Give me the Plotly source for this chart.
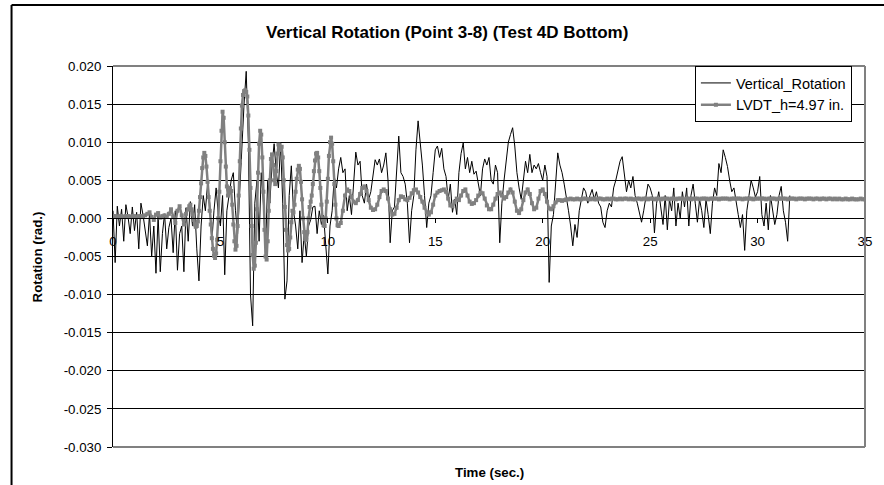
import numpy as np
import plotly.graph_objects as go

# ---------------------------------------------------------------------------
# Data (rotation in rad)
# ---------------------------------------------------------------------------
# Vertical_Rotation: sampled every 0.1 s starting at t = 0.0 s
vert_step = 0.1
vert_rotation = [
    # 0.0 - 4.0 s
    0.0010, -0.0058, 0.0016, -0.0010, 0.0012, -0.0030, 0.0018, 0.0002, -0.0020, 0.0015,
    -0.0016, 0.0008, -0.0040, 0.0020, 0.0004, -0.0018, -0.0036, 0.0006, -0.0050, -0.0010,
    -0.0072, 0.0004, -0.0070, -0.0020, 0.0006, -0.0040, -0.0012, 0.0000, -0.0045, 0.0010,
    -0.0068, -0.0020, -0.0010, -0.0070, 0.0014, -0.0030, 0.0022, -0.0010, 0.0018, -0.0040,
    -0.0082,
    # 4.1 - 10.0 s
    -0.0010, 0.0030, 0.0010, 0.0045, 0.0020, -0.0030, 0.0010, 0.0040, 0.0005, -0.0010,
    0.0030, -0.0074, 0.0010, 0.0030, 0.0050, 0.0060, 0.0010, -0.0020, 0.0040, 0.0080,
    0.0150, 0.0193, 0.0100, -0.0100, -0.0141, 0.0020, 0.0050, -0.0030, 0.0060, 0.0020,
    -0.0040, 0.0050, 0.0020, 0.0070, 0.0098, 0.0060, 0.0040, 0.0099, 0.0020, -0.0106,
    -0.0082, 0.0030, 0.0069, 0.0010, -0.0010, -0.0040, 0.0010, -0.0058, -0.0020, -0.0050,
    -0.0010, -0.0002, 0.0015, 0.0016, -0.0020, 0.0010, -0.0008, 0.0004, -0.0040, -0.0073,
    # 10.1 - 17.0 s
    -0.0010, 0.0010, 0.0055, 0.0040, 0.0065, 0.0080, 0.0060, 0.0065, 0.0010, 0.0030,
    0.0005, 0.0050, 0.0087, 0.0070, 0.0075, 0.0030, 0.0020, 0.0045, 0.0025, 0.0035,
    0.0060, 0.0077, 0.0070, 0.0078, 0.0060, 0.0070, 0.0086, 0.0050, -0.0032, 0.0010,
    0.0015, 0.0060, 0.0108, 0.0060, 0.0055, 0.0045, 0.0020, -0.0032, 0.0010, 0.0030,
    0.0090, 0.0128, 0.0100, 0.0070, 0.0030, -0.0012, 0.0020, 0.0030, 0.0060, 0.0090,
    0.0095, 0.0080, 0.0092, 0.0065, 0.0055, 0.0025, 0.0045, 0.0008, 0.0025, 0.0005,
    0.0060, 0.0085, 0.0099, 0.0065, 0.0080, 0.0060, 0.0075, 0.0058, 0.0062, 0.0045,
    # 17.1 - 25.0 s
    0.0030, 0.0065, 0.0078, 0.0070, 0.0080, 0.0050, 0.0045, 0.0070, 0.0060, -0.0032,
    0.0020, 0.0050, 0.0080, 0.0100, 0.0110, 0.0119, 0.0095, 0.0060, 0.0040, 0.0025,
    0.0050, 0.0075, 0.0060, 0.0084, 0.0060, 0.0070, 0.0065, 0.0072, 0.0060, 0.0050,
    0.0070, 0.0055, -0.0084, -0.0010, 0.0005, 0.0050, 0.0086, 0.0070, 0.0060, 0.0045,
    0.0030, 0.0010, -0.0010, -0.0036, -0.0008, -0.0025, 0.0010, 0.0025, 0.0040, 0.0035,
    0.0020, 0.0030, 0.0038, 0.0025, 0.0035, 0.0020, 0.0015, -0.0005, -0.0012, 0.0010,
    0.0020, 0.0015, 0.0040, 0.0050, 0.0065, 0.0075, 0.0081, 0.0060, 0.0035, 0.0050,
    0.0040, 0.0055, 0.0030, 0.0020, 0.0005, -0.0005, 0.0010, 0.0030, 0.0045, 0.0040,
    # 25.1 - 31.5 s
    0.0030, -0.0019, 0.0020, 0.0035, 0.0010, -0.0008, 0.0030, -0.0015, 0.0025, 0.0010,
    0.0040, -0.0010, 0.0020, 0.0000, 0.0035, 0.0015, 0.0040, -0.0010, 0.0030, 0.0045,
    0.0020, -0.0005, 0.0025, 0.0010, -0.0012, 0.0025, 0.0005, -0.0020, 0.0020, 0.0040,
    0.0030, 0.0072, 0.0060, 0.0090, 0.0080, 0.0068, 0.0050, 0.0035, 0.0040, 0.0025,
    0.0005, -0.0012, 0.0005, -0.0042, 0.0010, 0.0030, 0.0050, 0.0040, 0.0028, 0.0035,
    0.0055, 0.0005, -0.0010, 0.0020, -0.0015, 0.0030, 0.0010, -0.0008, 0.0005, 0.0030,
    0.0042, 0.0010, -0.0005, -0.0030, 0.0030,
]

# LVDT_h=4.97 in.: three segments with their own start time and sample step
lvdt_early_start, lvdt_early_step = 0.0, 0.1
lvdt_early = [
    0.0003, 0.0003, 0.0002, 0.0003, 0.0003, 0.0002, 0.0003, 0.0003, 0.0002, 0.0003,
    0.0003, 0.0002, 0.0003, 0.0003, 0.0002, 0.0004, 0.0006, 0.0008, 0.0002, -0.0002,
    0.0005, 0.0007, 0.0001, 0.0003, 0.0004, 0.0002, 0.0006, 0.0012, 0.0002, -0.0006,
    0.0010, 0.0016, 0.0004, -0.0008, 0.0006,
]

lvdt_strong_start, lvdt_strong_step = 3.5, 0.05
lvdt_strong = [
    0.0012, 0.0016, 0.0018, 0.0012, 0.0005, -0.0002, -0.0008, -0.0011, -0.0010, -0.0004,
    0.0010, 0.0028, 0.0046, 0.0066, 0.0080, 0.0086, 0.0082, 0.0068, 0.0048, 0.0028,
    0.0010, -0.0008, -0.0026, -0.0040, -0.0049, -0.0052, -0.0046, -0.0028, 0.0000, 0.0035,
    0.0075, 0.0115, 0.0140, 0.0132, 0.0100, 0.0068, 0.0042, 0.0030, 0.0034, 0.0040,
    0.0036, 0.0018, -0.0008, -0.0030, -0.0041, -0.0036, -0.0010, 0.0030, 0.0075, 0.0118,
    0.0148, 0.0162, 0.0167, 0.0168, 0.0166, 0.0160, 0.0135, 0.0090, 0.0040, -0.0010,
    -0.0048, -0.0066, -0.0062, -0.0032, 0.0012, 0.0060, 0.0098, 0.0115, 0.0110, 0.0080,
    0.0035, -0.0015, -0.0050, -0.0054, -0.0030, 0.0010, 0.0050, 0.0078, 0.0084, 0.0070,
    0.0050, 0.0045, 0.0062, 0.0085, 0.0097, 0.0096, 0.0090, 0.0094, 0.0080, 0.0050,
    0.0015, -0.0015, -0.0035, -0.0042, -0.0040, -0.0025, -0.0005, 0.0010, 0.0008, 0.0018,
    0.0035, 0.0052, 0.0064, 0.0069, 0.0065, 0.0048, 0.0025, 0.0000, -0.0018, -0.0027,
    -0.0028, -0.0018, 0.0000, 0.0015, 0.0022, 0.0030, 0.0045, 0.0062, 0.0076, 0.0085,
    0.0086, 0.0080, 0.0062, 0.0040, 0.0018, 0.0000, -0.0009, -0.0010, 0.0000, 0.0022,
    0.0052, 0.0082, 0.0100, 0.0106, 0.0098, 0.0075, 0.0045, 0.0018, 0.0000, -0.0009,
    -0.0010,
]

lvdt_late_start, lvdt_late_step = 10.6, 0.1
lvdt_late = [
    # 10.6 - 21.0 s
    -0.0006, 0.0010, 0.0030, 0.0038, 0.0036, 0.0028, 0.0022, 0.0020, 0.0024, 0.0032,
    0.0040, 0.0042, 0.0036, 0.0024, 0.0014, 0.0011, 0.0012, 0.0018, 0.0028, 0.0036,
    0.0038, 0.0036, 0.0026, 0.0012, 0.0005, 0.0006, 0.0014, 0.0024, 0.0029, 0.0028,
    0.0025, 0.0024, 0.0027, 0.0033, 0.0037, 0.0038, 0.0034, 0.0028, 0.0022, 0.0014,
    0.0008, 0.0005, 0.0008, 0.0018, 0.0030, 0.0034, 0.0036, 0.0037, 0.0038, 0.0035,
    0.0026, 0.0017, 0.0016, 0.0022, 0.0026, 0.0024, 0.0030, 0.0036, 0.0038, 0.0030,
    0.0022, 0.0019, 0.0020, 0.0024, 0.0030, 0.0034, 0.0033, 0.0026, 0.0017, 0.0012,
    0.0012, 0.0018, 0.0026, 0.0032, 0.0034, 0.0030, 0.0026, 0.0028, 0.0034, 0.0038,
    0.0034, 0.0022, 0.0010, 0.0007, 0.0012, 0.0024, 0.0034, 0.0038, 0.0032, 0.0020,
    0.0012, 0.0014, 0.0026, 0.0036, 0.0038, 0.0032, 0.0022, 0.0013, 0.0012, 0.0016,
    0.0021, 0.0024, 0.0024, 0.0023, 0.0024,
    # 21.1 - 35.0 s
    0.0025, 0.0025, 0.0026, 0.0025, 0.0025, 0.0026, 0.0025, 0.0025, 0.0026, 0.0026,
    0.0025, 0.0025, 0.0026, 0.0025, 0.0025, 0.0026, 0.0026, 0.0025, 0.0025, 0.0026,
    0.0025, 0.0026, 0.0026, 0.0025, 0.0025, 0.0026, 0.0025, 0.0026, 0.0026, 0.0025,
    0.0026, 0.0025, 0.0025, 0.0026, 0.0026, 0.0025, 0.0026, 0.0026, 0.0025, 0.0026,
    0.0026, 0.0025, 0.0026, 0.0026, 0.0025, 0.0026, 0.0026, 0.0026, 0.0025, 0.0026,
    0.0026, 0.0025, 0.0026, 0.0026, 0.0026, 0.0025, 0.0026, 0.0026, 0.0025, 0.0026,
    0.0026, 0.0026, 0.0025, 0.0026, 0.0026, 0.0026, 0.0025, 0.0026, 0.0026, 0.0026,
    0.0026, 0.0025, 0.0026, 0.0026, 0.0026, 0.0026, 0.0025, 0.0026, 0.0026, 0.0026,
    0.0026, 0.0026, 0.0025, 0.0026, 0.0026, 0.0026, 0.0026, 0.0025, 0.0026, 0.0026,
    0.0026, 0.0026, 0.0026, 0.0025, 0.0026, 0.0026, 0.0026, 0.0026, 0.0025, 0.0026,
    0.0026, 0.0026, 0.0026, 0.0025, 0.0026, 0.0026, 0.0026, 0.0025, 0.0026, 0.0026,
    0.0026, 0.0025, 0.0026, 0.0026, 0.0026, 0.0025, 0.0026, 0.0026, 0.0025, 0.0026,
    0.0026, 0.0025, 0.0026, 0.0026, 0.0025, 0.0026, 0.0025, 0.0026, 0.0025, 0.0025,
    0.0026, 0.0025, 0.0025, 0.0026, 0.0025, 0.0025, 0.0025, 0.0026, 0.0025, 0.0025,
]

# Axis ticks
x_tick_vals = [0, 5, 10, 15, 20, 25, 30, 35]
x_tick_text = ["0", "5", "10", "15", "20", "25", "30", "35"]
y_tick_vals = [0.020, 0.015, 0.010, 0.005, 0.000, -0.005, -0.010, -0.015,
               -0.020, -0.025, -0.030]
y_tick_text = ["0.020", "0.015", "0.010", "0.005", "0.000", "-0.005", "-0.010",
               "-0.015", "-0.020", "-0.025", "-0.030"]

# ---------------------------------------------------------------------------
# Time bases
# ---------------------------------------------------------------------------
def time_base(start, step, n):
    return np.round(start + step * np.arange(n), 3)

vert_time = time_base(0.0, vert_step, len(vert_rotation))
lvdt_time = np.concatenate([
    time_base(lvdt_early_start, lvdt_early_step, len(lvdt_early)),
    time_base(lvdt_strong_start, lvdt_strong_step, len(lvdt_strong)),
    time_base(lvdt_late_start, lvdt_late_step, len(lvdt_late)),
])
lvdt_values = lvdt_early + lvdt_strong + lvdt_late

# ---------------------------------------------------------------------------
# Figure
# ---------------------------------------------------------------------------
FONT = "Liberation Sans, Arial, Helvetica, sans-serif"
W, H = 884, 485
ML, MR, MT, MB = 113, 15, 66, 38
PW, PH = W - ML - MR, H - MT - MB
TICK_SIZE = 13.3


def px_x(px):
    return (px - ML) / PW


def px_y(py):
    return (H - MB - py) / PH


fig = go.Figure()
fig.add_trace(go.Scatter(
    x=vert_time, y=vert_rotation, name="Vertical_Rotation",
    mode="lines", line=dict(color="black", width=1),
))
fig.add_trace(go.Scatter(
    x=lvdt_time, y=lvdt_values, name="LVDT_h=4.97 in.",
    mode="lines+markers",
    line=dict(color="#808080", width=2.5),
    marker=dict(symbol="square", size=4, color="#808080"),
))

y_min, y_max = -0.030, 0.020

fig.update_layout(
    width=W, height=H,
    margin=dict(l=ML, r=MR, t=MT, b=MB, pad=0),
    paper_bgcolor="white", plot_bgcolor="white",
    font=dict(family=FONT, size=TICK_SIZE, color="black"),
    showlegend=True,
    legend=dict(
        x=px_x(698), y=px_y(66), xanchor="left", yanchor="top",
        bgcolor="white", bordercolor="black", borderwidth=1,
        font=dict(family=FONT, size=14.5, color="black"),
        itemwidth=30, tracegroupgap=0,
    ),
    xaxis=dict(
        range=[0, 35], anchor="free",
        position=(0 - y_min) / (y_max - y_min),
        showgrid=False, zeroline=False,
        showline=True, linecolor="black", linewidth=1,
        ticks="outside", ticklen=4, tickcolor="black", tickwidth=1,
        tickvals=x_tick_vals, ticktext=x_tick_text,
        tickfont=dict(family=FONT, size=TICK_SIZE, color="black"),
        ticklabelstandoff=7,
    ),
    yaxis=dict(
        range=[y_min, y_max],
        showgrid=True, gridcolor="black", gridwidth=1,
        zeroline=False,
        showline=True, linecolor="black", linewidth=1,
        ticks="outside", ticklen=5, tickcolor="black", tickwidth=1,
        tickvals=y_tick_vals, ticktext=y_tick_text,
        tickfont=dict(family=FONT, size=TICK_SIZE, color="black"),
        ticklabelstandoff=3,
    ),
    shapes=[
        # plot-area border (top, right, bottom)
        dict(type="line", xref="paper", yref="paper", x0=0, x1=1, y0=1, y1=1,
             line=dict(color="#808080", width=2), layer="above"),
        dict(type="line", xref="paper", yref="paper", x0=1, x1=1, y0=0, y1=1,
             line=dict(color="#808080", width=2), layer="above"),
        dict(type="line", xref="paper", yref="paper", x0=0, x1=1, y0=0, y1=0,
             line=dict(color="#808080", width=2), layer="above"),
        # chart-area frame
        dict(type="line", xref="paper", yref="paper",
             x0=px_x(11), x1=px_x(900), y0=px_y(5), y1=px_y(5),
             line=dict(color="black", width=2)),
        dict(type="line", xref="paper", yref="paper",
             x0=px_x(11), x1=px_x(11), y0=px_y(5), y1=px_y(500),
             line=dict(color="black", width=2)),
    ],
    annotations=[
        dict(text="<b>Vertical Rotation (Point 3-8) (Test 4D Bottom)</b>",
             xref="paper", yref="paper", x=px_x(449), y=px_y(33),
             xanchor="center", yanchor="middle", showarrow=False,
             font=dict(family=FONT, size=17, color="black")),
        dict(text="<b>Time (sec.)</b>",
             xref="paper", yref="paper", x=px_x(491), y=px_y(472),
             xanchor="center", yanchor="middle", showarrow=False,
             font=dict(family=FONT, size=13.3, color="black")),
        dict(text="<b>Rotation (rad.)</b>", textangle=-90,
             xref="paper", yref="paper", x=px_x(37), y=px_y(257),
             xanchor="center", yanchor="middle", showarrow=False,
             font=dict(family=FONT, size=13.3, color="black")),
    ],
)

fig.write_html("out.html")
